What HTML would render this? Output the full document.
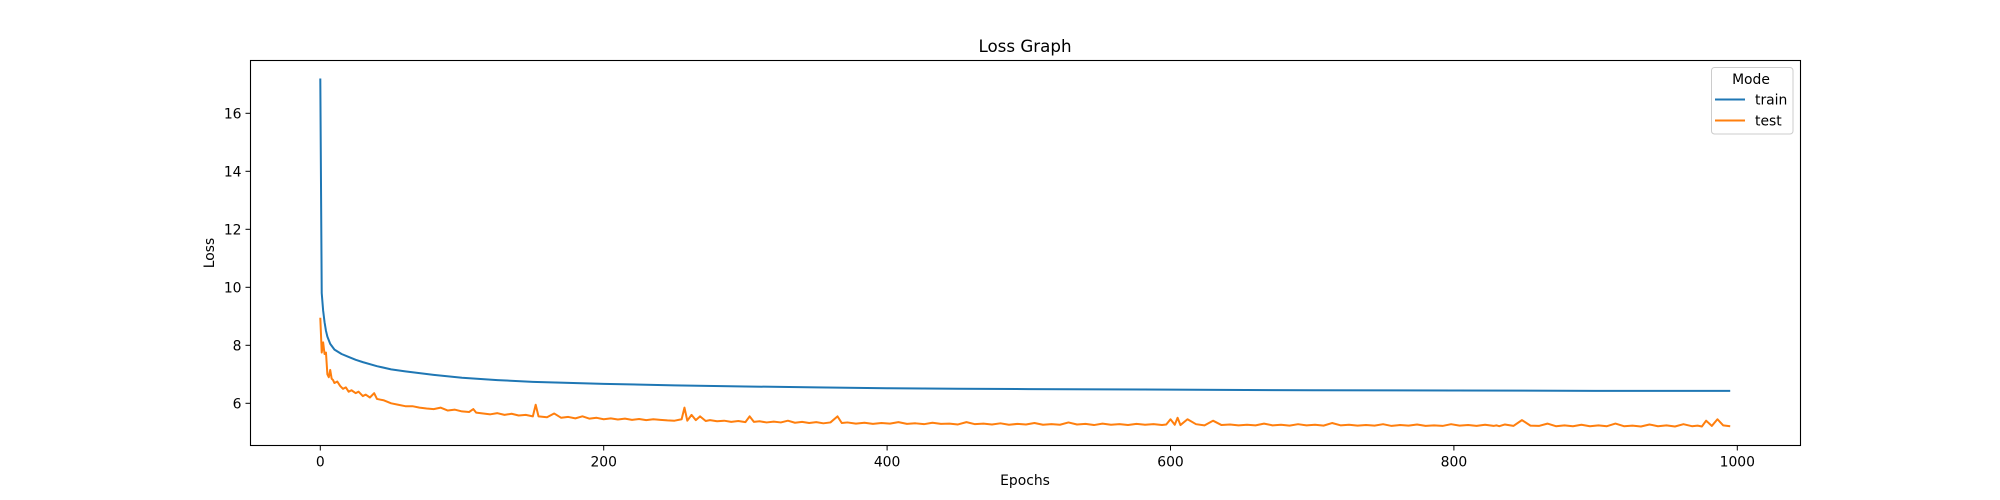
<!DOCTYPE html>
<html><head><meta charset="utf-8"><style>
html,body{margin:0;padding:0;background:#fff;}
svg{display:block;font-family:"DejaVu Sans","Liberation Sans",sans-serif;}
</style></head><body>
<svg id="chart" width="2000" height="500" viewBox="0 0 2000 500">
<rect x="0" y="0" width="2000" height="500" fill="#fff"/>
<text x="1025" y="52" font-size="16.7" text-anchor="middle">Loss Graph</text>
<g id="plot"></g>
<text x="1025" y="485" font-size="13.9" text-anchor="middle">Epochs</text>
<text transform="translate(214,253) rotate(-90)" font-size="13.9" text-anchor="middle">Loss</text>
<g>
<rect x="1711.5" y="67.5" width="81.5" height="66.5" rx="3" fill="#fff" fill-opacity="0.8" stroke="#ccc"/>
<text x="1751" y="84" font-size="13.9" text-anchor="middle">Mode</text>
<line x1="1715" y1="99.5" x2="1745" y2="99.5" stroke="#1f77b4" stroke-width="2"/>
<text x="1755" y="104.5" font-size="13.9">train</text>
<line x1="1715" y1="120.5" x2="1745" y2="120.5" stroke="#ff7f0e" stroke-width="2"/>
<text x="1755" y="125.5" font-size="13.9">test</text>
</g>
</svg>
<script>
const xTicks=[0,200,400,600,800,1000];
const yTicks=[6,8,10,12,14,16];
const trainEpochs=[0,1,2,3,4,5,7,10,15,20,25,30,40,50,60,70,80,100,125,150,200,250,300,350,400,450,500,600,700,800,900,995];
const trainLoss=[17.2,9.8,9.2,8.8,8.5,8.3,8.05,7.85,7.7,7.6,7.5,7.42,7.28,7.17,7.1,7.04,6.98,6.88,6.8,6.74,6.67,6.62,6.58,6.55,6.52,6.5,6.49,6.47,6.45,6.44,6.43,6.43];
const testEpochs=[0,1,2,3,4,5,6,7,8,9,10,12,14,16,18,20,22,25,27,30,32,35,38,40,45,50,55,60,65,70,75,80,85,90,95,100,105,108,110,115,120,125,130,135,140,145,150,152,154,160,165,170,175,180,185,190,195,200,205,210,215,220,225,230,235,240,245,250,255,257,259,262,265,268,272,275,280,285,290,295,300,303,306,310,315,320,325,330,335,340,345,350,355,360,365,368,372,378,384,390,396,402,408,414,420,426,432,438,444,450,456,462,468,474,480,486,492,498,504,510,516,522,528,534,540,546,552,558,564,570,576,582,588,594,597,600,603,605,607,612,618,624,630,636,642,648,654,660,666,672,678,684,690,696,702,708,714,720,726,732,738,744,750,756,762,768,774,780,786,792,798,804,810,816,822,828,830,832,836,842,848,854,860,866,872,878,884,890,896,902,908,914,920,926,932,938,944,950,956,962,968,972,975,978,982,986,990,995];
const testLoss=[8.95,7.75,8.1,7.7,7.75,7.0,6.9,7.15,6.85,6.8,6.7,6.75,6.6,6.5,6.55,6.4,6.45,6.35,6.4,6.25,6.3,6.2,6.35,6.15,6.1,6.0,5.95,5.9,5.9,5.85,5.82,5.8,5.85,5.75,5.78,5.72,5.7,5.8,5.68,5.65,5.62,5.66,5.6,5.64,5.58,5.6,5.55,5.95,5.55,5.52,5.65,5.5,5.53,5.48,5.55,5.47,5.5,5.45,5.48,5.44,5.47,5.43,5.46,5.42,5.45,5.43,5.41,5.4,5.45,5.85,5.4,5.6,5.42,5.55,5.39,5.42,5.38,5.4,5.36,5.39,5.35,5.55,5.36,5.38,5.34,5.37,5.34,5.4,5.33,5.36,5.32,5.35,5.31,5.34,5.55,5.32,5.34,5.3,5.33,5.29,5.32,5.3,5.35,5.29,5.31,5.28,5.33,5.29,5.3,5.27,5.35,5.28,5.3,5.27,5.31,5.26,5.29,5.27,5.32,5.26,5.28,5.26,5.34,5.27,5.29,5.25,5.3,5.26,5.28,5.25,5.29,5.26,5.28,5.25,5.27,5.45,5.26,5.5,5.25,5.45,5.28,5.24,5.4,5.25,5.27,5.24,5.26,5.24,5.3,5.24,5.26,5.23,5.28,5.24,5.26,5.23,5.32,5.24,5.26,5.23,5.25,5.23,5.28,5.22,5.25,5.23,5.27,5.22,5.24,5.22,5.28,5.23,5.25,5.22,5.26,5.22,5.24,5.21,5.27,5.22,5.42,5.23,5.22,5.3,5.21,5.24,5.21,5.26,5.21,5.24,5.21,5.3,5.21,5.23,5.2,5.27,5.21,5.24,5.2,5.28,5.21,5.23,5.2,5.4,5.22,5.45,5.24,5.21,5.23,5.2];

const X0=250.5,X1=1800.5,Y0=60.5,Y1=445.5;
function xs(v){return 320.3+(v-0)*1.417;}
function ys(v){return 403.3-(v-6)*29;}
const NS='http://www.w3.org/2000/svg';
const plot=document.getElementById('plot');
function mk(tag,attrs){const e=document.createElementNS(NS,tag);for(const k in attrs)e.setAttribute(k,attrs[k]);plot.appendChild(e);return e;}
function series(ex,vals,color,name){
  let d='';ex.forEach((e,i)=>{d+=(i?'L':'M')+xs(e).toFixed(2)+','+ys(vals[i]).toFixed(2);});
  const p=mk('path',{d:d,fill:'none',stroke:color,'stroke-width':2,'stroke-linejoin':'round'});
  
  
}
series(trainEpochs,trainLoss,'#1f77b4','train-line');
series(testEpochs,testLoss,'#ff7f0e','test-line');
const frame=mk('rect',{x:X0,y:Y0,width:X1-X0,height:Y1-Y0,fill:'none',stroke:'#000','stroke-width':1.1});


xTicks.forEach(t=>{
  const x=xs(t);
  const l=mk('line',{x1:x,y1:Y1,x2:x,y2:Y1+5,stroke:'#000','stroke-width':1});
  
  
  const tx=mk('text',{x:x,y:Y1+21,'font-size':13.9,'text-anchor':'middle'});
  tx.textContent=t;
  
  
});
yTicks.forEach(t=>{
  const y=ys(t);
  const l=mk('line',{x1:X0-5,y1:y,x2:X0,y2:y,stroke:'#000','stroke-width':1});
  
  
  const tx=mk('text',{x:X0-9,y:y+5,'font-size':13.9,'text-anchor':'end'});
  tx.textContent=t;
  
  
});
</script>
</body></html>
